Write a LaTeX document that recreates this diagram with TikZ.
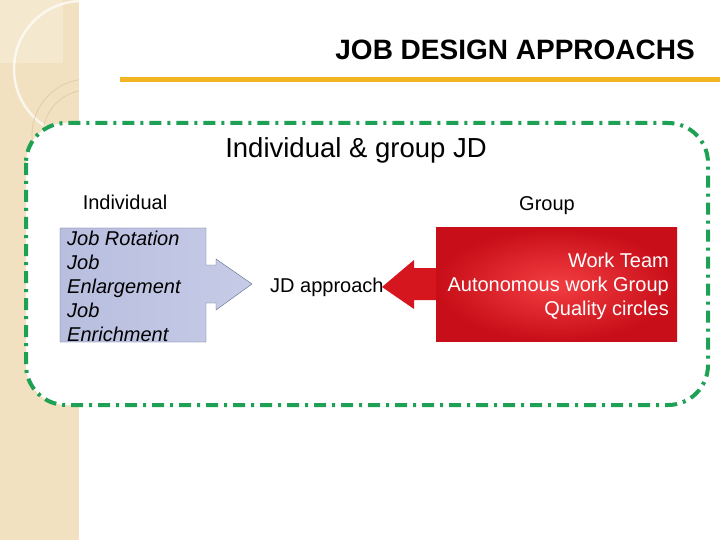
\documentclass[tikz,border=0pt]{standalone}
\usepackage{fontspec}
\setmainfont{Liberation Sans}
\setsansfont{Liberation Sans}
\usetikzlibrary{positioning}
\definecolor{sidebg}{RGB}{241,225,192}
\definecolor{sideln}{RGB}{222,200,160}
\definecolor{rulecol}{RGB}{243,180,35}
\definecolor{framecol}{RGB}{30,160,85}
\definecolor{indleft}{RGB}{184,190,222}
\definecolor{indright}{RGB}{198,203,231}
\definecolor{indline}{RGB}{95,105,140}
\definecolor{grpin}{RGB}{242,62,66}
\definecolor{grpout}{RGB}{200,14,24}
\definecolor{grparrow}{RGB}{214,22,30}

\begin{document}
\begin{tikzpicture}[x=1pt,y=-1pt,
  txt/.style={font=\fontsize{20}{24}\selectfont,inner sep=0pt},
  frame/.style={draw=framecol,fill=white,line width=4pt,rounded corners=40pt,
    dash pattern=on 12pt off 6pt on 3pt off 6pt}]
\useasboundingbox (0,0) rectangle (720,540);

% side strip
\fill[sidebg] (0,0) rectangle (79,540);
\begin{scope}
  \clip (0,0) rectangle (79,540);
  \fill[white,opacity=0.25] (0,0) rectangle (63,63);
  \draw[white,line width=2.5pt,opacity=0.7] (82,69) circle (68);
  \foreach \r in {45,56}
    \draw[sideln,line width=0.6pt] (88,135) circle (\r);
\end{scope}

% title
\node[font=\fontsize{28}{32}\selectfont\bfseries,anchor=east,inner sep=0pt] (title) at (695,50) {JOB DESIGN APPROACHS};
\draw[rulecol,line width=5pt] (120,80) -- (720,80);

% frame
\draw[frame] (26,123) rectangle (708,405);
\node[font=\fontsize{27.5}{31}\selectfont,inner sep=0pt] (head) at (356,150) {Individual \& group JD};

% individual side
\node[txt] (ind) at (125,202) {Individual};
\path[draw=indline,left color=indleft,right color=indright]
  (60,228) -- (206,228) -- (206,265) -- (216,265) -- (216,259) -- (252,284)
  -- (216,310) -- (216,303) -- (206,303) -- (206,342) -- (60,342) -- cycle;
\node[txt,font=\fontsize{20}{24}\selectfont\itshape,anchor=west,align=left] (indlist) at (67,286)
  {Job Rotation\\Job\\Enlargement\\Job\\Enrichment};

\node[txt,anchor=west] (jd) at (270,287) {JD approach};

% group side
\node[txt] (grp) at (547,206) {Group};
\fill[grparrow] (436,268) -- (414,268) -- (414,260) -- (382,287) -- (414,309)
  -- (414,300) -- (436,300) -- cycle;
\shade[inner color=grpin,outer color=grpout] (436,228) rectangle (677,341);
\node[txt,white,anchor=east,align=right] (grplist) at (669,286)
  {Work Team\\Autonomous work Group\\Quality circles};
\end{tikzpicture}
\end{document}
